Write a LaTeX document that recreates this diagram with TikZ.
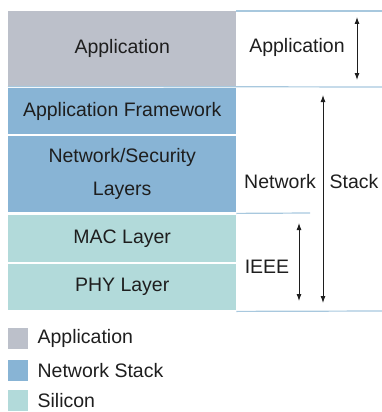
\documentclass[tikz,border=0pt]{standalone}
\usepackage{fontspec}
\setmainfont{Liberation Sans}
\usetikzlibrary{positioning,arrows.meta}

\definecolor{appgray}{RGB}{188,192,202}
\definecolor{netblue}{RGB}{136,180,213}
\definecolor{silicon}{RGB}{178,218,218}
\definecolor{sepline}{RGB}{168,200,222}
\definecolor{inkgray}{RGB}{30,30,30}

\begin{document}
\begin{tikzpicture}[x=1pt,y=-1pt,
		every node/.style={text=inkgray,font=\fontsize{19.5}{33}\selectfont},
		layer/.style={rectangle,anchor=north west,minimum width=228pt,inner sep=0pt,align=center},
		key/.style={rectangle,anchor=north west,minimum width=20pt,minimum height=21pt,inner sep=0pt},
		rule/.style={draw=sepline,line width=1.2pt},
		span/.style={{Latex[length=7pt,width=5pt]}-{Latex[length=7pt,width=5pt]},line width=0.9pt,draw=inkgray}]
		
		\useasboundingbox (0,0) rectangle (382,412);
		
		% left column
		\node[layer,fill=appgray,minimum height=75pt] (app) at (8,11) {Application};
		\node[layer,fill=netblue,minimum height=46pt] (fw) at (8,88) {Application Framework};
		\node[layer,fill=netblue,minimum height=76pt] (nws) at (8,136) {Network/Security\\Layers};
		\node[layer,fill=silicon,minimum height=47pt] (mac) at (8,215) {MAC Layer};
		\node[layer,fill=silicon,minimum height=46pt] (phy) at (8,264) {PHY Layer};
		
		% rules on the right
		\coordinate (topend) at (382,11);
		\coordinate (append) at (382,87);
		\coordinate (ieeeend) at (310,213);
		\coordinate (botend) at (382,311);
		\draw[rule] (app.north east) -- (topend);
		\draw[rule] (app.south west) -- (append);
		\draw[rule] (nws.south east) ++(0,1) -- (ieeeend);
		\draw[rule] (phy.south east) ++(0,1) -- (botend);
		
		% right column
		\node (appR) at (297,47) {Application};
		\node (netL) at (280,182) {Network};
		\node (netR) at (354,182) {Stack};
		\node (ieee) at (267,267) {IEEE};
		
		\coordinate (appTop) at (357,17);
		\coordinate (appBot) at (357,80);
		\coordinate (netTop) at (323,95);
		\coordinate (netBot) at (323,303);
		\coordinate (ieeeTop) at (299,223);
		\coordinate (ieeeBot) at (299,301);
		\draw[span] (appTop) -- (appBot);
		\draw[span] (netTop) -- (netBot);
		\draw[span] (ieeeTop) -- (ieeeBot);
		
		% legend
		\node[key,fill=appgray] (k1) at (8,328) {};
		\node[key,fill=netblue] (k2) at (8,360) {};
		\node[key,fill=silicon] (k3) at (8,390) {};
		\node[right=9pt of k1,inner sep=0pt] (l1) {Application};
		\node[right=9pt of k2,inner sep=0pt] (l2) {Network Stack};
		\node[right=9pt of k3,inner sep=0pt] (l3) {Silicon};
\end{tikzpicture}
\end{document}
